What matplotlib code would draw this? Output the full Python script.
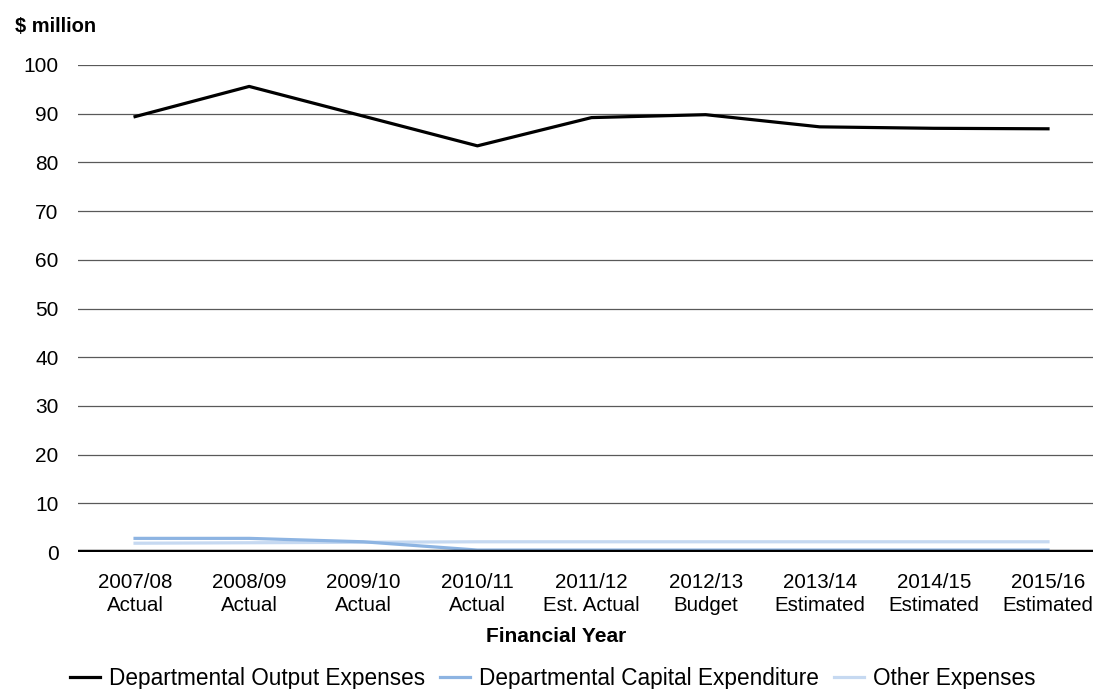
import matplotlib.pyplot as plt
import numpy as np

plt.rcParams['font.family'] = ['Liberation Sans', 'DejaVu Sans']

# data ($ million)
years = ["2007/08\nActual", "2008/09\nActual", "2009/10\nActual", "2010/11\nActual",
         "2011/12\nEst. Actual", "2012/13\nBudget", "2013/14\nEstimated",
         "2014/15\nEstimated", "2015/16\nEstimated"]
output_expenses = [89.4, 95.6, 89.5, 83.4, 89.2, 89.8, 87.3, 87.0, 86.9]
capital_expenditure = [2.8, 2.8, 2.1, 0.4, 0.4, 0.4, 0.4, 0.4, 0.4]
other_expenses = [1.8, 1.9, 2.0, 2.1, 2.1, 2.1, 2.1, 2.1, 2.1]
y_ticks = [0, 10, 20, 30, 40, 50, 60, 70, 80, 90, 100]

W, H = 1093, 689
fig = plt.figure(figsize=(W / 100, H / 100), dpi=100)
ax = fig.add_axes([78 / W, 1 - 552 / H, (W - 78) / W, (552 - 65) / H])

x = np.arange(len(years))

# gridlines
for t in y_ticks[1:]:
    ax.axhline(t, color='#595959', linewidth=0.9, zorder=1)

ax.plot(x, other_expenses, color='#C6D9F1', linewidth=2.3, label='Other Expenses', zorder=3)
ax.plot(x, capital_expenditure, color='#8DB4E2', linewidth=2.3,
        label='Departmental Capital Expenditure', zorder=4)
ax.plot(x, output_expenses, color='black', linewidth=2.3,
        label='Departmental Output Expenses', zorder=6)

# zero axis line
ax.axhline(0, color='black', linewidth=3.2, zorder=5)

ax.set_xlim(-0.5, 8 + (W - 1048) / 114.1)
ax.set_ylim(0, 100)
ax.set_yticks(y_ticks)
ax.set_xticks(x)
ax.set_xticklabels(years, fontsize=14.8, linespacing=1.25)
ax.tick_params(axis='y', length=0, pad=14, labelsize=15)
ax.tick_params(axis='x', length=0, pad=15)
for spine in ax.spines.values():
    spine.set_visible(False)

fig.text(556 / W, 1 - 636 / H, "Financial Year", fontsize=15, fontweight='bold',
         ha='center', va='center')
fig.text(15 / W, 1 - 26 / H, "$ million", fontsize=14.5, fontweight='bold',
         ha='left', va='center')

handles, labels = ax.get_legend_handles_labels()
order = [2, 1, 0]
fig.legend([handles[i] for i in order], [labels[i] for i in order],
           loc='center', bbox_to_anchor=(552.5 / W, 1 - 678 / H), ncol=3, frameon=False,
           fontsize=16.3, handlelength=1.33, handletextpad=0.4, columnspacing=0.66,
           borderpad=0, borderaxespad=0)

fig.savefig("out.png", dpi=100)
